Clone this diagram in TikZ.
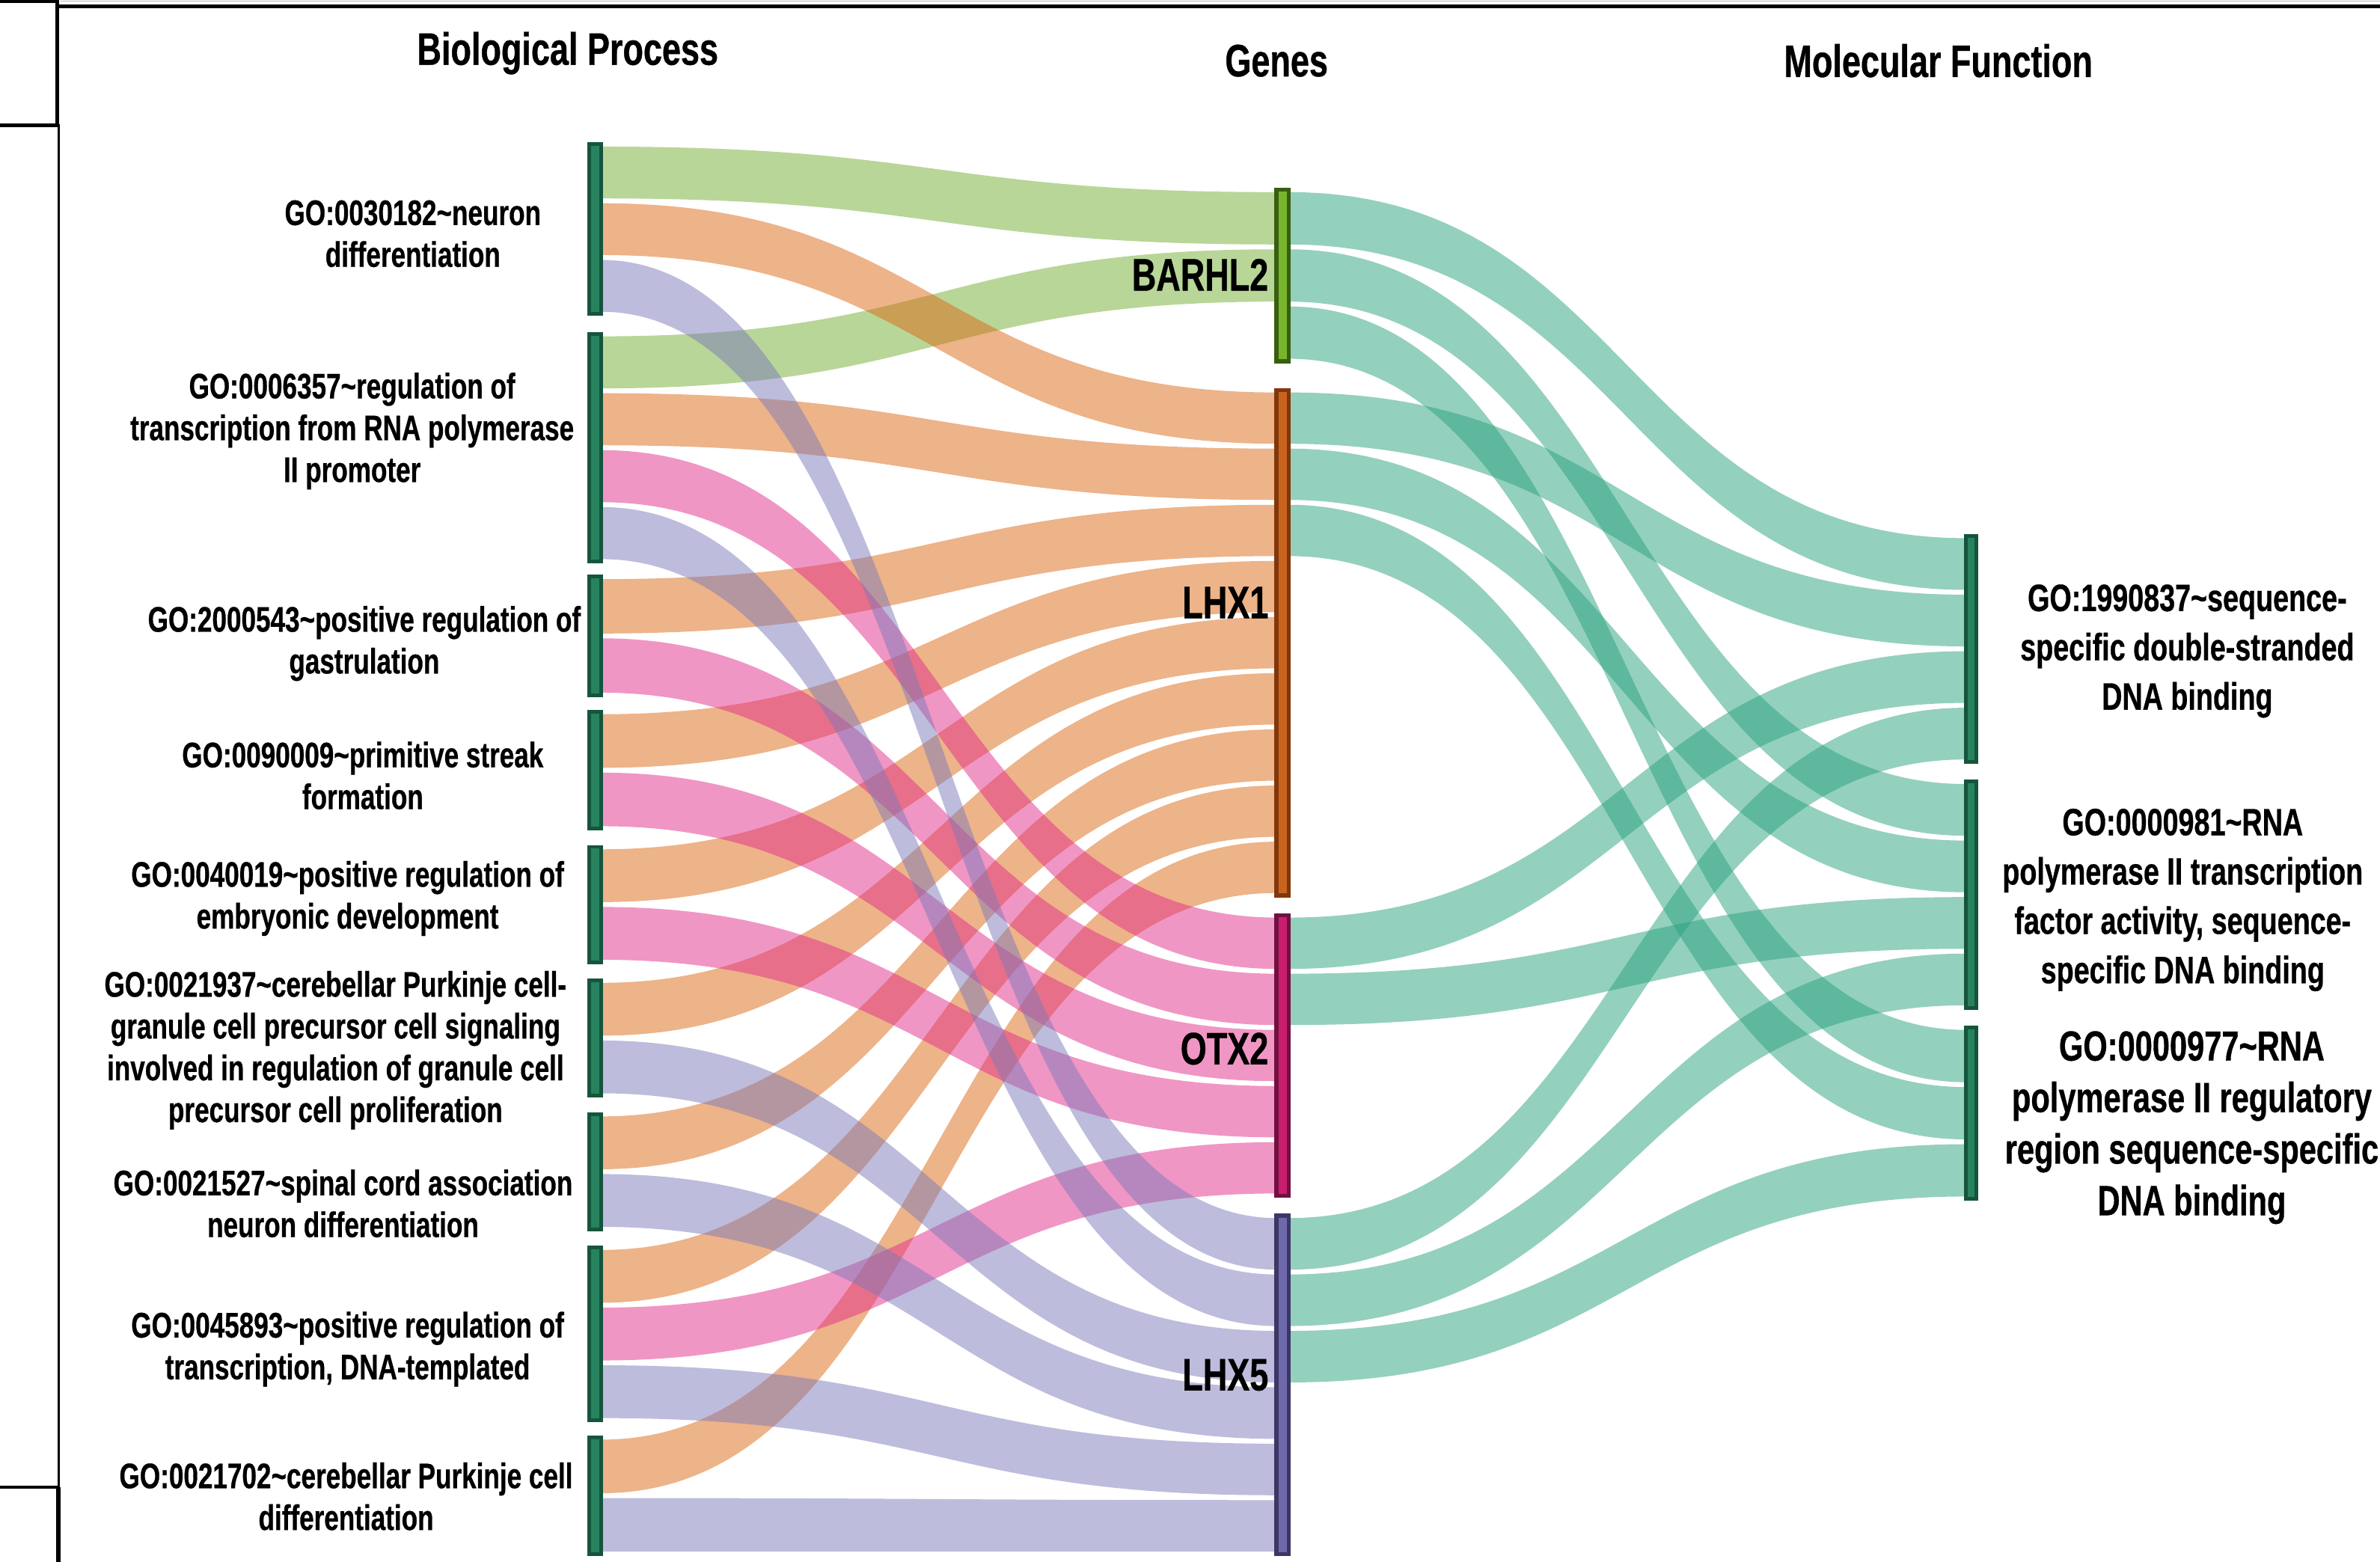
\documentclass[tikz,border=0pt]{standalone}
\usepackage{fontspec}
\setmainfont{Liberation Sans}[FakeStretch=0.74, BoldFeatures={FakeBold=0.6}]
\usepackage{tikz}
\usetikzlibrary{calc}
\usetikzlibrary{fit}
\definecolor{goGreen}{RGB}{113,173,49}
\definecolor{goOrange}{RGB}{219,103,20}
\definecolor{goPink}{RGB}{226,45,137}
\definecolor{goPurple}{RGB}{125,121,186}
\definecolor{goTeal}{RGB}{41,161,125}
\definecolor{barDark}{RGB}{20,85,60}
\definecolor{barMid}{RGB}{40,130,95}
\definecolor{barhlDark}{RGB}{55,95,15}
\definecolor{barhlMid}{RGB}{120,180,45}
\definecolor{lhxoneDark}{RGB}{130,55,10}
\definecolor{lhxoneMid}{RGB}{200,100,30}
\definecolor{otxDark}{RGB}{115,15,65}
\definecolor{otxMid}{RGB}{200,30,110}
\definecolor{lhxfiveDark}{RGB}{60,55,100}
\definecolor{lhxfiveMid}{RGB}{110,105,170}

\pgfdeclarelayer{flows}
\pgfsetlayers{flows,main}

\def\bend{222}
\def\gap{1.6}
\newcommand{\flow}[7]{%
  \fill[#7]
    ($(#1.north east)!{(#2-1)/#3}!(#1.south east)+(0,\gap)$)
    .. controls +(\bend,0) and +(-\bend,0) ..
    ($(#4.north west)!{(#5-1)/#6}!(#4.south west)+(0,\gap)$)
    -- ($(#4.north west)!{#5/#6}!(#4.south west)-(0,\gap)$)
    .. controls +(-\bend,0) and +(\bend,0) ..
    ($(#1.north east)!{#2/#3}!(#1.south east)-(0,\gap)$) -- cycle;}

\begin{document}
\begin{tikzpicture}[x=0.2029mm, y=-0.2029mm]

          \tikzstyle{frameLine} = [black, line width=1pt];
          \tikzstyle{bpBar} = [draw=barDark, fill=barMid, line width=1.4pt, inner sep=0, outer sep=0];
          \tikzstyle{geneBar} = [line width=1.6pt, inner sep=0, outer sep=0];
          \tikzstyle{mfBar} = [draw=barDark, fill=barMid, line width=1.4pt, inner sep=0, outer sep=0];

          \tikzstyle{header} = [font=\bfseries\fontsize{17.3}{20}\selectfont, inner sep=0];
          \tikzstyle{geneLabel} = [font=\bfseries\fontsize{17.3}{20}\selectfont, inner sep=0, anchor=east];
          \tikzstyle{bpLabel} = [font=\bfseries\fontsize{13.5}{15.9}\selectfont, align=center, inner sep=0];
          \tikzstyle{mfLabel} = [font=\bfseries\fontsize{14.5}{18.75}\selectfont, align=center, inner sep=0];

          \tikzstyle{greenFlow} = [goGreen, fill opacity=0.5];
          \tikzstyle{orangeFlow} = [goOrange, fill opacity=0.5];
          \tikzstyle{pinkFlow} = [goPink, fill opacity=0.5];
          \tikzstyle{purpleFlow} = [goPurple, fill opacity=0.5];
          \tikzstyle{tealFlow} = [goTeal, fill opacity=0.5];

          \useasboundingbox (0,0) rectangle (1568,1029);

          \draw[gray!60, line width=0.4pt] (40,0.6) -- (1568,0.6);
          \draw[frameLine, line width=1.3pt] (38,4.2) -- (1568,4.2);
          \draw[frameLine, line width=1.5pt] (0,0.9) -- (37.6,0.9) -- (37.6,82.6) -- (0,82.6);
          \draw[frameLine, line width=0.9pt] (38.8,82) -- (38.8,980);
          \draw[frameLine, line width=1.2pt] (0,980) -- (38.8,980);
          \draw[frameLine, line width=1.6pt] (38.4,980) -- (38.4,1029);

          \node[header] (hBP) at (374,35) {Biological Process};
          \node[header] (hGenes) at (841,40) {Genes};
          \node[header] (hMF) at (1277,40) {Molecular Function};

          \node[bpBar, fit={(388,95) (396,207)}] (bp1) {};
          \node[bpBar, fit={(388,220) (396,370)}] (bp2) {};
          \node[bpBar, fit={(388,380) (396,458)}] (bp3) {};
          \node[bpBar, fit={(388,469) (396,546)}] (bp4) {};
          \node[bpBar, fit={(388,558) (396,634)}] (bp5) {};
          \node[bpBar, fit={(388,646) (396,722)}] (bp6) {};
          \node[bpBar, fit={(388,734) (396,810)}] (bp7) {};
          \node[bpBar, fit={(388,822) (396,936)}] (bp8) {};
          \node[bpBar, fit={(388,947) (396,1024)}] (bp9) {};

          \node[geneBar, draw=barhlDark, fill=barhlMid, fit={(841,125) (849,238)}] (barhl2) {};
          \node[geneBar, draw=lhxoneDark, fill=lhxoneMid, fit={(841,257) (849,590)}] (lhx1) {};
          \node[geneBar, draw=otxDark, fill=otxMid, fit={(841,603) (849,788)}] (otx2) {};
          \node[geneBar, draw=lhxfiveDark, fill=lhxfiveMid, fit={(841,801) (849,1024)}] (lhx5) {};

          \node[mfBar, fit={(1295,353) (1302,502)}] (mf1) {};
          \node[mfBar, fit={(1295,515) (1302,664)}] (mf2) {};
          \node[mfBar, fit={(1295,677) (1302,790)}] (mf3) {};

          \begin{pgfonlayer}{flows}
          \flow{bp1}{1}{3}{barhl2}{1}{3}{greenFlow}
          \flow{bp2}{1}{4}{barhl2}{2}{3}{greenFlow}

          \flow{bp1}{2}{3}{lhx1}{1}{9}{orangeFlow}
          \flow{bp2}{2}{4}{lhx1}{2}{9}{orangeFlow}
          \flow{bp3}{1}{2}{lhx1}{3}{9}{orangeFlow}
          \flow{bp4}{1}{2}{lhx1}{4}{9}{orangeFlow}
          \flow{bp5}{1}{2}{lhx1}{5}{9}{orangeFlow}
          \flow{bp6}{1}{2}{lhx1}{6}{9}{orangeFlow}
          \flow{bp7}{1}{2}{lhx1}{7}{9}{orangeFlow}
          \flow{bp8}{1}{3}{lhx1}{8}{9}{orangeFlow}
          \flow{bp9}{1}{2}{lhx1}{9}{9}{orangeFlow}

          \flow{bp2}{3}{4}{otx2}{1}{5}{pinkFlow}
          \flow{bp3}{2}{2}{otx2}{2}{5}{pinkFlow}
          \flow{bp4}{2}{2}{otx2}{3}{5}{pinkFlow}
          \flow{bp5}{2}{2}{otx2}{4}{5}{pinkFlow}
          \flow{bp8}{2}{3}{otx2}{5}{5}{pinkFlow}

          \flow{bp1}{3}{3}{lhx5}{1}{6}{purpleFlow}
          \flow{bp2}{4}{4}{lhx5}{2}{6}{purpleFlow}
          \flow{bp6}{2}{2}{lhx5}{3}{6}{purpleFlow}
          \flow{bp7}{2}{2}{lhx5}{4}{6}{purpleFlow}
          \flow{bp8}{3}{3}{lhx5}{5}{6}{purpleFlow}
          \flow{bp9}{2}{2}{lhx5}{6}{6}{purpleFlow}

          \flow{barhl2}{1}{3}{mf1}{1}{4}{tealFlow}
          \flow{barhl2}{2}{3}{mf2}{1}{4}{tealFlow}
          \flow{barhl2}{3}{3}{mf3}{1}{3}{tealFlow}
          \flow{lhx1}{1}{9}{mf1}{2}{4}{tealFlow}
          \flow{lhx1}{2}{9}{mf2}{2}{4}{tealFlow}
          \flow{lhx1}{3}{9}{mf3}{2}{3}{tealFlow}
          \flow{otx2}{1}{5}{mf1}{3}{4}{tealFlow}
          \flow{otx2}{2}{5}{mf2}{3}{4}{tealFlow}
          \flow{lhx5}{1}{6}{mf1}{4}{4}{tealFlow}
          \flow{lhx5}{2}{6}{mf2}{4}{4}{tealFlow}
          \flow{lhx5}{3}{6}{mf3}{3}{3}{tealFlow}
          \end{pgfonlayer}

          \node[geneLabel] (barhl2lbl) at (836,181) {BARHL2};
          \node[geneLabel] (lhx1lbl) at (836,397) {LHX1};
          \node[geneLabel] (otx2lbl) at (836,691) {OTX2};
          \node[geneLabel] (lhx5lbl) at (836,906) {LHX5};

          \node[bpLabel] (bp1lbl) at (272,154) {GO:0030182\textasciitilde neuron\\differentiation};
          \node[bpLabel] (bp2lbl) at (232,284) {GO:0006357\textasciitilde regulation of\\transcription from RNA polymerase\\II promoter};
          \node[bpLabel] (bp3lbl) at (240,424) {GO:2000543\textasciitilde positive regulation of\\gastrulation};
          \node[bpLabel] (bp4lbl) at (239,511) {GO:0090009\textasciitilde primitive streak\\formation};
          \node[bpLabel] (bp5lbl) at (229,592) {GO:0040019\textasciitilde positive regulation of\\embryonic development};
          \node[bpLabel] (bp6lbl) at (221,692) {GO:0021937\textasciitilde cerebellar Purkinje cell-\\granule cell precursor cell signaling\\involved in regulation of granule cell\\precursor cell proliferation};
          \node[bpLabel] (bp7lbl) at (226,793) {GO:0021527\textasciitilde spinal cord association\\neuron differentiation};
          \node[bpLabel] (bp8lbl) at (229,889) {GO:0045893\textasciitilde positive regulation of\\transcription, DNA-templated};
          \node[bpLabel] (bp9lbl) at (228,986) {GO:0021702\textasciitilde cerebellar Purkinje cell\\differentiation};

          \node[mfLabel] (mf1lbl) at (1441,429) {GO:1990837\textasciitilde sequence-\\specific double-stranded\\DNA binding};
          \node[mfLabel] (mf2lbl) at (1438,593) {GO:0000981\textasciitilde RNA\\polymerase II transcription\\factor activity, sequence-\\specific DNA binding};
          \node[mfLabel, font=\bfseries\fontsize{16}{19.6}\selectfont] (mf3lbl) at (1444,743) {GO:0000977\textasciitilde RNA\\polymerase II regulatory\\region sequence-specific\\DNA binding};

        \end{tikzpicture}
\end{document}
